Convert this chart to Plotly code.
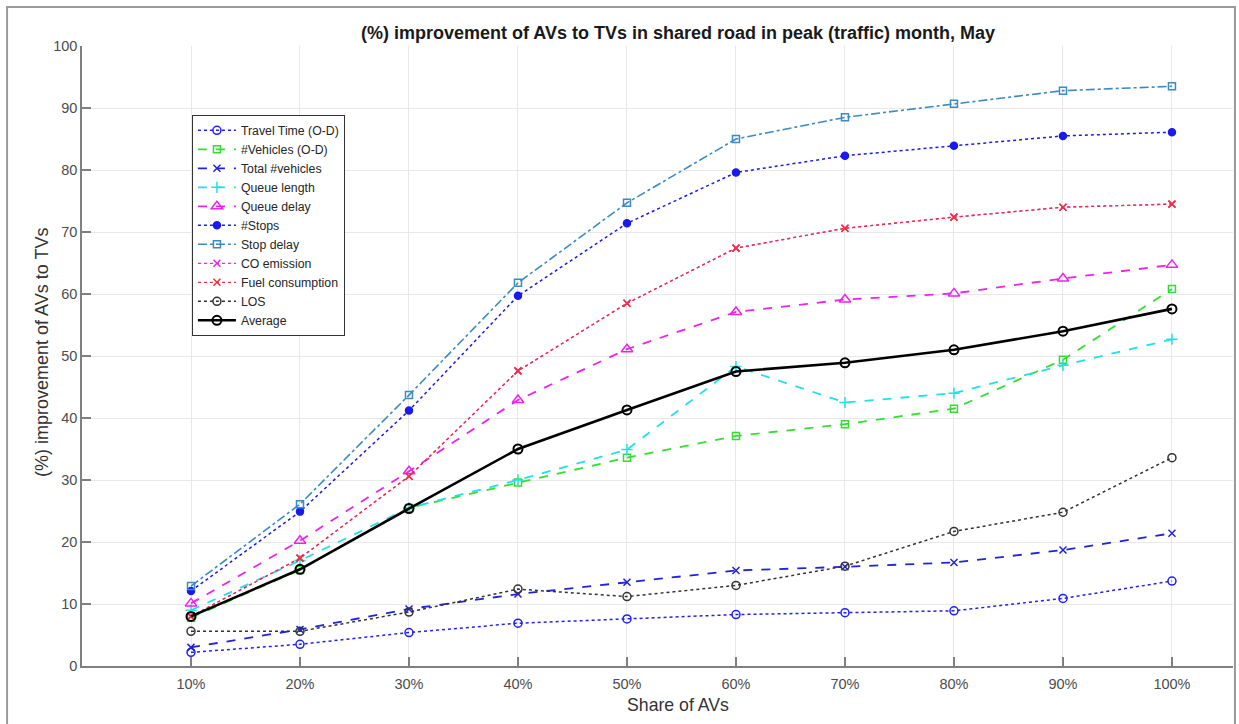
import plotly.graph_objects as go

share = [10, 20, 30, 40, 50, 60, 70, 80, 90, 100]
share_labels = ["10%", "20%", "30%", "40%", "50%", "60%", "70%", "80%", "90%", "100%"]

travel_time = [2.2, 3.5, 5.4, 6.9, 7.6, 8.3, 8.6, 8.9, 10.9, 13.7]
vehicles_od = [7.8, 15.5, 25.5, 29.6, 33.6, 37.1, 39.0, 41.5, 49.4, 60.8]
total_vehicles = [3.0, 5.9, 9.2, 11.6, 13.5, 15.4, 16.0, 16.7, 18.7, 21.4]
queue_length = [9.0, 17.0, 25.5, 30.0, 34.9, 48.3, 42.5, 44.0, 48.5, 52.7]
queue_delay = [10.1, 20.2, 31.4, 42.9, 51.1, 57.1, 59.1, 60.1, 62.5, 64.7]
stops = [12.1, 24.9, 41.2, 59.7, 71.4, 79.6, 82.3, 83.9, 85.5, 86.1]
stop_delay = [12.9, 26.1, 43.7, 61.8, 74.7, 85.0, 88.5, 90.7, 92.8, 93.5]
co_emission = [8.0, 17.4, 30.6, 47.6, 58.5, 67.4, 70.6, 72.4, 74.0, 74.5]
fuel = [8.0, 17.4, 30.6, 47.6, 58.5, 67.4, 70.6, 72.4, 74.0, 74.5]
los = [5.6, 5.6, 8.7, 12.4, 11.2, 13.0, 16.1, 21.7, 24.8, 33.6]
average = [8.0, 15.6, 25.4, 35.0, 41.3, 47.5, 48.9, 51.0, 54.0, 57.6]

series = [
    ("Travel Time (O-D)", travel_time, "#1f1fff", "dot", 1.5, "circle-open", 8),
    ("#Vehicles (O-D)", vehicles_od, "#33dd33", "dash", 1.8, "square-open", 7),
    ("Total #vehicles", total_vehicles, "#2222dd", "dash", 1.8, "x-thin-open", 7),
    ("Queue length", queue_length, "#22e0e8", "dash", 1.8, "cross-thin-open", 8),
    ("Queue delay", queue_delay, "#ee22ee", "dash", 1.8, "triangle-up-open", 10),
    ("#Stops", stops, "#1a1aee", "dot", 1.5, "circle", 7),
    ("Stop delay", stop_delay, "#3a8ac4", "dashdot", 1.6, "square-open", 7),
    ("CO emission", co_emission, "#ee22ee", "dot", 1.3, "x-thin-open", 7),
    ("Fuel consumption", fuel, "#ee3333", "dot", 1.3, "x-thin-open", 7),
    ("LOS", los, "#333333", "dot", 1.5, "circle-open", 8),
    ("Average", average, "#000000", "solid", 2.6, "circle-open", 9),
]

fig = go.Figure()
for name, vals, color, dash, width, symbol, msize in series:
    fig.add_trace(go.Scatter(
        x=share, y=vals, name=name, mode="lines+markers",
        line=dict(color=color, dash=dash, width=width),
        marker=dict(symbol=symbol, size=msize, color=color,
                    line=dict(color=color, width=2 if name == "Average" else 1.5)),
    ))

FONT = "Liberation Sans, Arial, Helvetica, sans-serif"

fig.update_layout(
    width=1239, height=724,
    margin=dict(l=82, r=6, t=46, b=58),
    paper_bgcolor="white", plot_bgcolor="white",
    font=dict(family=FONT, color="#4d4d4d", size=14),
    showlegend=True,
    legend=dict(
        x=0.0955, y=0.889, xanchor="left", yanchor="top",
        bgcolor="white", bordercolor="#333333", borderwidth=1,
        font=dict(family=FONT, size=12.3, color="#262626"),
        tracegroupgap=0, itemwidth=38,
    ),
    xaxis=dict(
        range=[0, 105.6], tickvals=share, ticktext=share_labels,
        showgrid=True, gridcolor="#e8e8e8", gridwidth=1,
        showline=True, linecolor="#808080", linewidth=1.5,
        ticks="inside", ticklen=9, tickcolor="#808080", tickwidth=1.5,
        zeroline=False, tickfont=dict(size=14.5, color="#4d4d4d"),
        ticklabelstandoff=4,
    ),
    yaxis=dict(
        range=[0, 100], tickvals=list(range(0, 101, 10)),
        showgrid=True, gridcolor="#e8e8e8", gridwidth=1,
        showline=True, linecolor="#808080", linewidth=1.5,
        ticks="inside", ticklen=9, tickcolor="#808080", tickwidth=1.5,
        zeroline=False, tickfont=dict(size=14.5, color="#4d4d4d"),
    ),
    annotations=[
        dict(text="<b>(%) improvement of AVs to TVs in shared road in peak (traffic) month, May</b>",
             xref="paper", yref="paper", x=0.518, y=1.021, xanchor="center", yanchor="middle",
             showarrow=False, font=dict(family=FONT, size=18, color="#1a1a1a")),
        dict(text="Share of AVs", xref="paper", yref="paper", x=0.518, y=-0.063,
             xanchor="center", yanchor="middle", showarrow=False,
             font=dict(family=FONT, size=17.7, color="#333333")),
        dict(text="(%) improvement of AVs to TVs", xref="paper", yref="paper",
             x=-0.0347, y=0.505, xanchor="center", yanchor="middle", textangle=-90,
             showarrow=False, font=dict(family=FONT, size=18, color="#333333")),
    ],
    shapes=[
        dict(type="rect", xref="paper", yref="paper",
             x0=-0.0651, x1=1.0017, y0=-0.12, y1=1.0629,
             line=dict(color="#9a9a9a", width=2), layer="below"),
    ],
)

fig.write_html("out.html")
